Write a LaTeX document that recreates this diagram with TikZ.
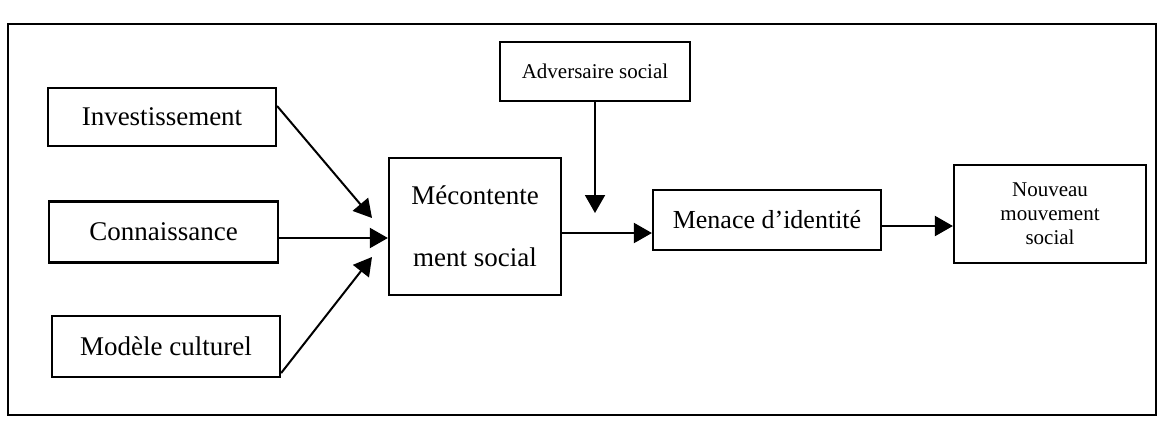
\documentclass[tikz,border=0pt]{standalone}
\usepackage{fontspec}
\setmainfont{Liberation Serif}
\usetikzlibrary{arrows.meta}
\begin{document}
\begin{tikzpicture}[x=0.5pt,y=-0.5pt,
  box/.style={draw,line width=1.1pt,inner sep=0pt,align=center,font=\fontsize{13.5}{16}\selectfont},
  smallbox/.style={box,font=\fontsize{10.5}{12}\selectfont},
  conn/.style={line width=1pt,-{Triangle[length=9pt,width=10pt]}}]
\useasboundingbox (0,0) rectangle (1159,428);
\draw[line width=1pt] (8,24) rectangle (1156,415);
\node[box,minimum width=114pt,minimum height=29pt] (inv) at (162,117) {Investissement};
\node[box,minimum width=114.5pt,minimum height=30.5pt] (con) at (163.5,232) {Connaissance};
\node[box,minimum width=114pt,minimum height=30.5pt] (mod) at (166,346.5) {Modèle culturel};
\node[box,minimum width=86pt,minimum height=68.5pt,font=\fontsize{13.5}{31}\selectfont] (mec) at (475,226.5) {Mécontente\\ment social};
\node[smallbox,minimum width=95pt,minimum height=29.5pt] (adv) at (595,71.5) {Adversaire social};
\node[box,minimum width=114pt,minimum height=30pt,font=\fontsize{13}{16}\selectfont] (men) at (767,220) {Menace d’identité};
\node[smallbox,minimum width=96pt,minimum height=49pt] (nou) at (1050,214) {Nouveau\\mouvement\\social};
\coordinate (tipa) at (372,218);
\coordinate (tipb) at (372,257);
\coordinate (tipc) at (595,213);
\draw[conn] ([yshift=5.5pt]inv.east) -- (tipa);
\draw[conn] ([yshift=-3pt]con.east) -- ([yshift=-3pt]con.east -| mec.west);
\draw[conn] ([yshift=2.5pt]mod.south east) -- (tipb);
\draw[conn] (adv.south) -- (tipc);
\draw[conn] ([yshift=-3.25pt]mec.east) -- ([yshift=-3.25pt]mec.east -| men.west);
\draw[conn] ([yshift=-3pt]men.east) -- ([yshift=-3pt]men.east -| nou.west);
\end{tikzpicture}
\end{document}
